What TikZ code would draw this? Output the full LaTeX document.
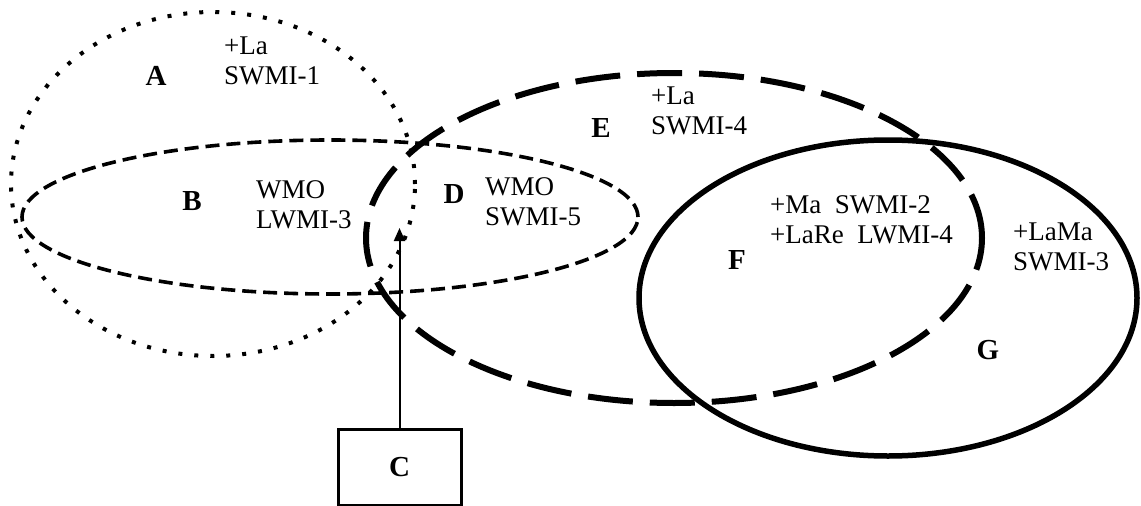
\documentclass[tikz,border=0pt]{standalone}
\usepackage{fontspec}
\setmainfont{Liberation Serif}
\usetikzlibrary{arrows.meta}

\tikzset{
	setA/.style={line width=4pt,dash pattern=on 4pt off 12pt},
	setB/.style={line width=3.6pt,dash pattern=on 14pt off 7pt},
	setE/.style={line width=6pt,dash pattern=on 45pt off 17pt},
	setG/.style={line width=5.5pt},
	tag/.style={font=\fontsize{29}{32}\selectfont\bfseries,inner sep=0pt},
	txt/.style={font=\fontsize{27}{30}\selectfont,align=left,anchor=north west,inner sep=0pt},
	box/.style={draw,line width=3pt,minimum width=123pt,minimum height=76pt}
}

\begin{document}
\begin{tikzpicture}[x=1pt,y=-1pt]
			\useasboundingbox (0,0) rectangle (1141,506);
			
			% the four sets
			\draw[setA] (213,184) ellipse [x radius=202pt, y radius=172pt];
			\draw[setB] (330,217) ellipse [x radius=308pt, y radius=77pt];
			\draw[setE] (674,238) ellipse [x radius=308pt, y radius=165pt];
			\draw[setG] (888,298) ellipse [x radius=249pt, y radius=158pt];
			
			% letters
			\node[tag] (A) at (156,76) {A};
			\node[tag] (B) at (192,201) {B};
			\node[tag] (D) at (454,194) {D};
			\node[tag] (E) at (601,128) {E};
			\node[tag] (F) at (737,260) {F};
			\node[tag] (G) at (988,350) {G};
			
			% texts
			\node[txt] (tA) at (224,37) {+La\\SWMI-1};
			\node[txt] (tB) at (256,180) {WMO\\LWMI-3};
			\node[txt] (tD) at (485,177) {WMO\\SWMI-5};
			\node[txt] (tE) at (651,87) {+La\\SWMI-4};
			\node[txt] (tF) at (770,195) {+Ma\ \ SWMI-2\\+LaRe\ \ LWMI-4};
			\node[txt] (tG) at (1013,223) {+LaMa\\SWMI-3};
			
			% box and arrow
			\node[box] (C) at (399.5,467) {};
			\node[tag] (Ct) at (C.center) {C};
			\coordinate (tip) at (399.5,228);
			\draw[line width=2pt,-{Triangle[length=13pt,width=11pt]}] (C.north) -- (tip);
\end{tikzpicture}
\end{document}
